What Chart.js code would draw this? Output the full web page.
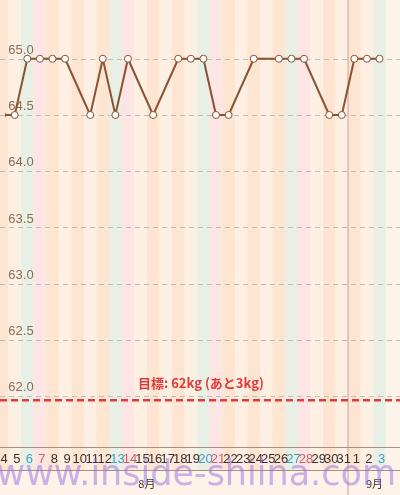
<!DOCTYPE html><html><head><meta charset="utf-8">
<script src="https://cdn.jsdelivr.net/npm/chart.js@4"></script>
<style>html,body{margin:0;padding:0;background:#fdf3e8}</style></head><body>
<div style="width:400px;height:495px"><canvas id="c" width="400" height="495"></canvas></div>
<script>
const dayLabels=['4','5','6','7','8','9','10','11','12','13','14','15','16','17','18','19','20','21','22','23','24','25','26','27','28','29','30','31','1','2','3'];
const weights=[64.5,64.5,65,65,65,65,null,64.5,65,64.5,65,null,64.5,null,65,65,65,64.5,64.5,null,65,null,65,65,65,null,64.5,64.5,65,65,65];
const dayType=['','','sat','sun','','','','','','sat','sun','','','','','','sat','sun','','','','','','sat','sun','','','','','','sat'];
const yTicks=[65.0,64.5,64.0,63.5,63.0,62.5,62.0];
const targetWeight=62;
const targetLabel='目標: 62kg (あと3kg)';
const months=[{label:'8月',at:11.5},{label:'9月',at:29.6}];
const monthBoundary=27.5;
const pts=weights.map((v,i)=>({x:i,y:v}));
const bg={id:'bg',beforeDraw(ch){const{ctx,scales:{x,y},chartArea:a}=ch;ctx.save();
ctx.fillStyle='#fdf3e8';ctx.fillRect(0,0,400,495);
dayLabels.forEach((d,i)=>{const l=x.getPixelForValue(i-0.5),r=x.getPixelForValue(i+0.5);
let c=i%2?'#fdf0e2':'#fde5d2';if(dayType[i]==='sat')c='#e8efe4';if(dayType[i]==='sun')c='#fce5e3';
ctx.fillStyle=c;ctx.fillRect(l,0,r-l,470);});
ctx.strokeStyle='#bdbdbd';ctx.setLineDash([5,4]);ctx.lineWidth=1;
yTicks.forEach(t=>{const p=Math.round(y.getPixelForValue(t))+0.5;ctx.beginPath();ctx.moveTo(0,p);ctx.lineTo(400,p);ctx.stroke();});
ctx.setLineDash([]);
const mb=x.getPixelForValue(monthBoundary);ctx.strokeStyle='#e0b8ae';ctx.lineWidth=1.5;ctx.beginPath();ctx.moveTo(mb,0);ctx.lineTo(mb,495);ctx.stroke();
ctx.font='13px "Liberation Sans",Arial';ctx.textAlign='center';ctx.textBaseline='bottom';ctx.fillStyle='#8a6b55';
yTicks.forEach(t=>ctx.fillText(t.toFixed(1),21,y.getPixelForValue(t)-2));
const tp=y.getPixelForValue(targetWeight);
ctx.strokeStyle='#e03a3a';ctx.lineWidth=2.5;ctx.setLineDash([7,4]);ctx.beginPath();ctx.moveTo(0,tp+4);ctx.lineTo(400,tp+4);ctx.stroke();ctx.setLineDash([]);
ctx.font='bold 13px "Noto Sans CJK JP"';ctx.fillStyle='#e03a3a';ctx.fillText(targetLabel,201,tp-7);
ctx.strokeStyle='#a89080';ctx.lineWidth=1;
[447.5,470.5].forEach(p=>{ctx.beginPath();ctx.moveTo(0,p);ctx.lineTo(400,p);ctx.stroke();});
ctx.font='13px "Liberation Sans",Arial';ctx.textBaseline='middle';
dayLabels.forEach((d,i)=>{ctx.fillStyle=dayType[i]==='sat'?'#3d9fc4':dayType[i]==='sun'?'#d0606a':'#3a3030';ctx.fillText(d,x.getPixelForValue(i)+2,459);});
ctx.font='11px "Noto Sans CJK JP"';ctx.fillStyle='#3a3030';
months.forEach(m=>ctx.fillText(m.label,x.getPixelForValue(m.at),484));
ctx.restore();},
afterDraw(ch){const ctx=ch.ctx;ctx.save();ctx.font='35px "DejaVu Sans"';ctx.fillStyle='rgba(150,110,230,0.5)';ctx.textAlign='right';ctx.textBaseline='middle';ctx.fillText('www.inside-shiina.com',396,476);ctx.restore();}};
new Chart(document.getElementById('c'),{type:'line',data:{datasets:[{data:pts,borderColor:'#8a5230',borderWidth:2,spanGaps:true,tension:0,pointRadius:3.5,pointBackgroundColor:'#fff',pointBorderColor:'#8a5230',pointBorderWidth:1}]},
options:{responsive:false,animation:false,layout:{padding:{top:-3,bottom:46,left:-3,right:-18}},plugins:{legend:{display:false},tooltip:{enabled:false}},
scales:{x:{type:'linear',min:0.225,max:31.23,display:false},y:{min:61.53,max:65.478,display:false}}},plugins:[bg]});
</script></body></html>
